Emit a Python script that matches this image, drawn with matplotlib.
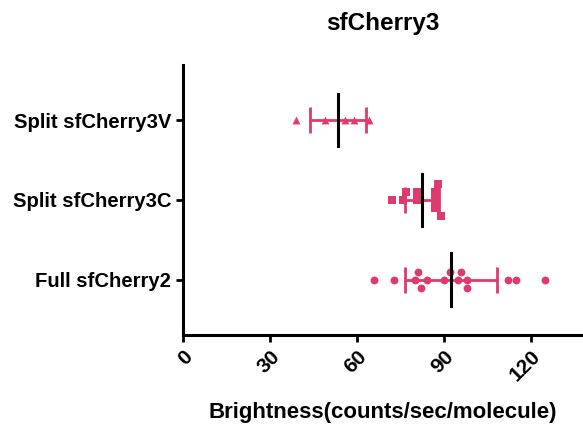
import numpy as np
import matplotlib
matplotlib.use('Agg')
import matplotlib.pyplot as plt

plt.rcParams['font.family'] = ['Liberation Sans', 'DejaVu Sans']

# Data (brightness, counts/sec/molecule)
categories = ['Full sfCherry2', 'Split sfCherry3C', 'Split sfCherry3V']
full_sfcherry2 = [66, 72.9, 80, 81.2, 82, 84, 90, 92, 94.9, 95.9, 98, 98, 112, 115, 125]
split_3c = [72, 76, 77, 80.8, 80.8, 86.9, 86.9, 86.9, 87.8, 89]
split_3v = [39, 49, 56, 59, 64]
series = [full_sfcherry2, split_3c, split_3v]
markers = ['o', 's', '^']
xticks = [0, 30, 60, 90, 120]

PINK = '#DF3A6D'


def swarm_offsets(vals, diam_x, diam_y):
    """Simple beeswarm: place each point at the smallest vertical offset free of overlap"""
    placed = []
    offs = []
    for v in vals:
        k = 0
        while True:
            cands = [0] if k == 0 else [k, -k]
            ok = None
            for c in cands:
                if all(((v - pv) / diam_x) ** 2 + ((c - pc) / 1.0) ** 2 >= 1.0 for pv, pc in placed):
                    ok = c
                    break
            if ok is not None:
                placed.append((v, ok))
                offs.append(ok * diam_y)
                break
            k += 1
    return offs


fig = plt.figure(figsize=(5.83, 4.3), dpi=100)
ax = fig.add_axes([0.314, 0.221, 0.686, 0.628])
ax.set_xlim(0, 138)
ax.set_ylim(-0.69, 2.69)

for i, (vals, mk) in enumerate(zip(series, markers)):
    vals = np.array(vals, dtype=float)
    m = vals.mean()
    sd = vals.std(ddof=1)
    offs = swarm_offsets(vals, 2.4, 0.1)
    ax.scatter(vals, i + np.array(offs), marker=mk, s=32, color=PINK, zorder=3, linewidths=0)
    ax.errorbar(m, i, xerr=sd, fmt='none', ecolor=PINK, elinewidth=2,
                capsize=9.5, capthick=2, zorder=2)
    ax.plot([m, m], [i - 0.33, i + 0.33], color='black', lw=2.2, zorder=4)

ax.spines['top'].set_visible(False)
ax.spines['right'].set_visible(False)
ax.spines['left'].set_linewidth(2.2)
ax.spines['bottom'].set_linewidth(2.2)
ax.tick_params(axis='both', width=2, length=5)
ax.set_yticks(range(len(categories)))
ax.set_yticklabels(categories, fontsize=14.6, fontweight='bold')
ax.set_xticks(xticks)
ax.set_xticklabels([str(t) for t in xticks], fontsize=15, fontweight='bold',
                   rotation=45, ha='right', rotation_mode='anchor')
ax.set_xlabel('Brightness(counts/sec/molecule)', fontsize=16, fontweight='bold', labelpad=12)
ax.set_title('sfCherry3', fontsize=17.5, fontweight='bold', pad=25)

fig.savefig('out.png', dpi=100)
